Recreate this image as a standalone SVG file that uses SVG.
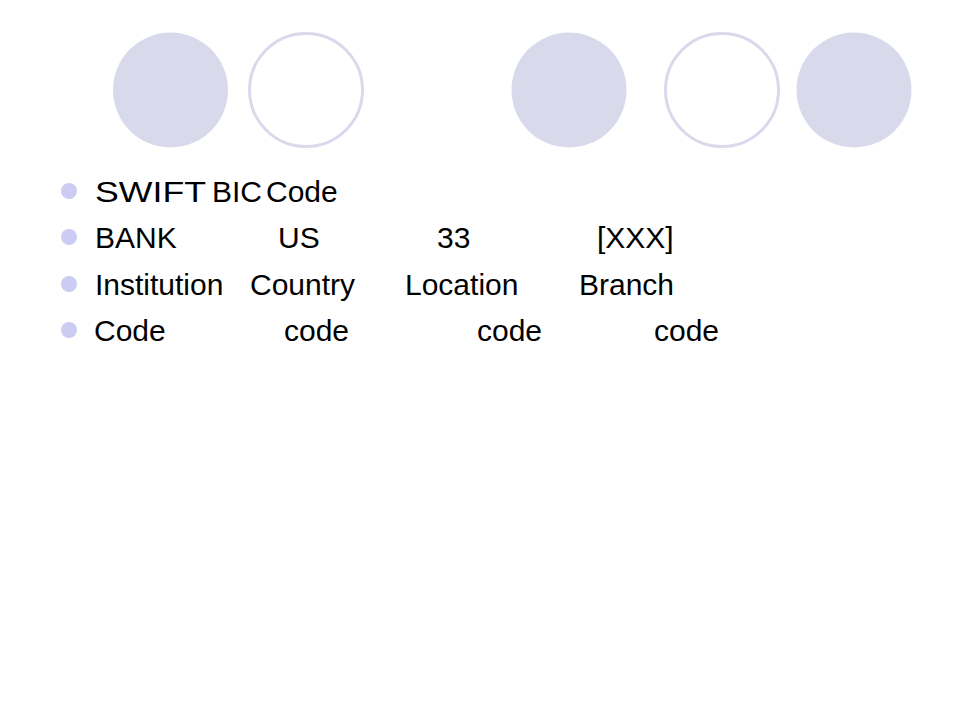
<svg xmlns="http://www.w3.org/2000/svg" width="960" height="720" viewBox="0 0 960 720">
<style>
.fill{fill:#D9D9EC}
.ring{fill:#FFFFFF;stroke:#D9D9EC;stroke-width:3}
.bullet{fill:#CCCCF2}
.t{font-family:"Liberation Sans",Arial,sans-serif;font-size:30px;fill:#000000}
</style>
<rect width="960" height="720" fill="#FFFFFF"/>
<g id="deco">
<circle class="fill" cx="170.5" cy="90" r="57.5"/>
<circle class="ring" cx="306" cy="90" r="56.5"/>
<circle class="fill" cx="569" cy="90" r="57.5"/>
<circle class="ring" cx="722" cy="90" r="56.5"/>
<circle class="fill" cx="854" cy="90" r="57.5"/>
</g>
<g id="row1">
<circle class="bullet" cx="69" cy="191" r="8"/>
<text class="t" y="202"><tspan x="95" textLength="111" lengthAdjust="spacingAndGlyphs">SWIFT</tspan><tspan x="212">BIC</tspan><tspan x="266">Code</tspan></text>
</g>
<g id="row2">
<circle class="bullet" cx="69" cy="237" r="8"/>
<text class="t" y="248"><tspan x="95">BANK</tspan><tspan x="278">US</tspan><tspan x="437">33</tspan><tspan x="597">[XXX]</tspan></text>
</g>
<g id="row3">
<circle class="bullet" cx="69" cy="284" r="8"/>
<text class="t" y="295"><tspan x="95">Institution</tspan><tspan x="250">Country</tspan><tspan x="405">Location</tspan><tspan x="579">Branch</tspan></text>
</g>
<g id="row4">
<circle class="bullet" cx="69" cy="330" r="8"/>
<text class="t" y="341"><tspan x="94">Code</tspan><tspan x="284">code</tspan><tspan x="477">code</tspan><tspan x="654">code</tspan></text>
</g>
</svg>
